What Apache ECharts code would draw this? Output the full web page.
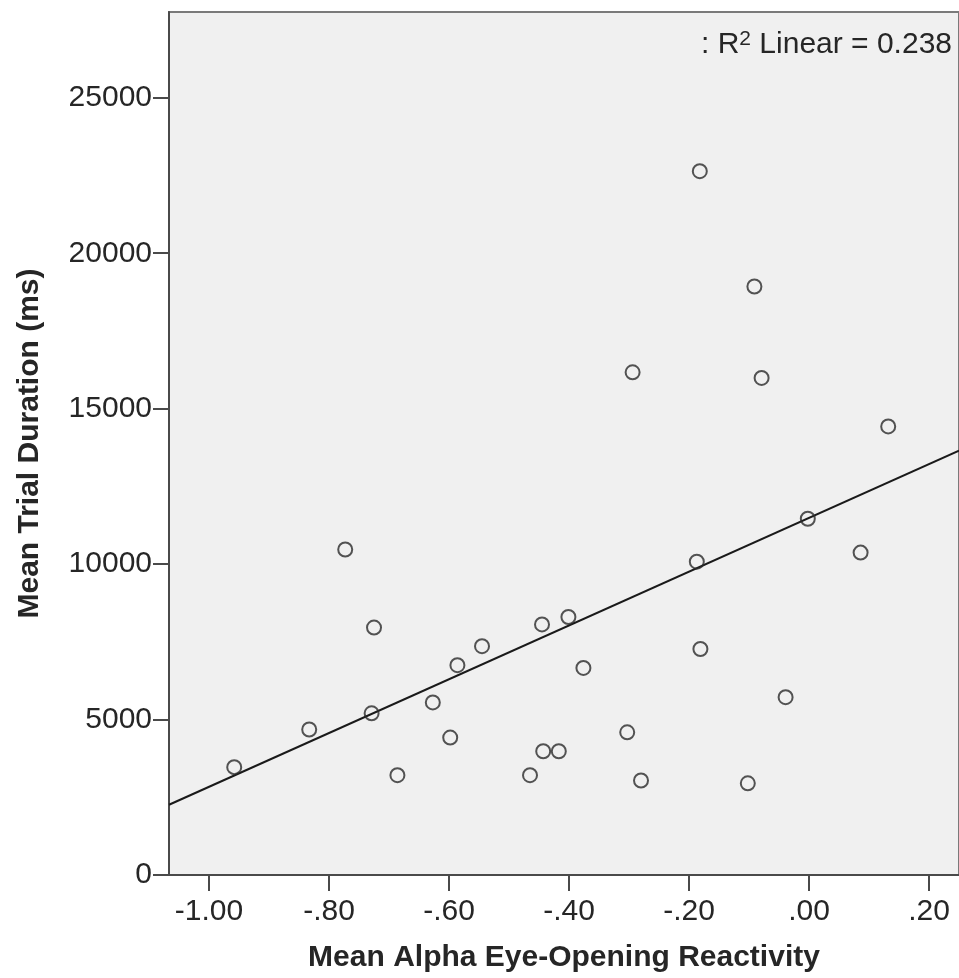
<!DOCTYPE html>
<html>
<head>
<meta charset="utf-8">
<script src="https://cdn.jsdelivr.net/npm/echarts@6/dist/echarts.min.js"></script>
<style>
  html, body { margin: 0; padding: 0; background: #ffffff; }
  #chart { width: 959px; height: 978px; }
</style>
</head>
<body>
<div id="chart"></div>
<script>
// Per-subject means: alpha eye-opening reactivity vs. mean trial duration (ms)
var alphaReactivity = [
  -0.958, -0.833, -0.773, -0.725, -0.729, -0.686, -0.627, -0.598, -0.586, -0.545,
  -0.465, -0.445, -0.443, -0.417, -0.401, -0.376, -0.303, -0.294, -0.280, -0.187,
  -0.181, -0.182, -0.091, -0.079, -0.102, -0.039, -0.002, 0.086, 0.132
];
var trialDuration = [
  3470, 4680, 10470, 7960, 5200, 3210, 5550, 4420, 6750, 7360,
  3210, 8060, 3980, 3980, 8300, 6660, 4590, 16170, 3040, 10080,
  7270, 22640, 18930, 15990, 2950, 5720, 11460, 10370, 14430
];

var xTicks = [-1.0, -0.8, -0.6, -0.4, -0.2, 0.0, 0.2];
var yTicks = [0, 5000, 10000, 15000, 20000, 25000];
var xRange = [-1.0667, 0.25];
var yRange = [0, 27760];
var r2Label = '0.238';

var points = alphaReactivity.map(function (x, i) { return [x, trialDuration[i]]; });

// Ordinary least-squares fit of duration on reactivity
function linearFit(xs, ys) {
  var n = xs.length, mx = 0, my = 0;
  for (var i = 0; i < n; i++) { mx += xs[i]; my += ys[i]; }
  mx /= n; my /= n;
  var sxy = 0, sxx = 0;
  for (var j = 0; j < n; j++) {
    sxy += (xs[j] - mx) * (ys[j] - my);
    sxx += (xs[j] - mx) * (xs[j] - mx);
  }
  var slope = sxy / sxx;
  return { slope: slope, intercept: my - slope * mx };
}
var fit = linearFit(alphaReactivity, trialDuration);
var fitLine = xRange.map(function (x) { return [x, fit.intercept + fit.slope * x]; });

// Decimal labels without the leading zero: -.80, .00, .20
function spssDecimal(v) {
  var s = Math.abs(v).toFixed(2).replace(/^0\./, '.');
  return (v < -1e-9 ? '-' : '') + s;
}

var FONT = '"Liberation Sans", Arial, sans-serif';
var AXIS = '#4a4a4a';
var TEXT = '#262626';

var chart = echarts.init(document.getElementById('chart'), null, { renderer: 'canvas' });
chart.setOption({
  animation: false,
  backgroundColor: '#ffffff',
  title: {
    text: ': R{sup|2} Linear = ' + r2Label,
    right: 7,
    top: 29,
    padding: 0,
    textStyle: {
      fontFamily: FONT,
      fontSize: 30,
      fontWeight: 'normal',
      color: TEXT,
      rich: {
        sup: { fontFamily: FONT, fontSize: 21, color: TEXT, verticalAlign: 'top', lineHeight: 32 }
      }
    }
  },
  grid: {
    left: 169,
    right: -3,
    top: 12,
    bottom: 101,
    show: true,
    backgroundColor: '#f0f0f0',
    borderColor: '#7a7a7a',
    borderWidth: 2
  },
  xAxis: {
    type: 'value',
    min: xRange[0],
    max: xRange[1],
    name: 'Mean Alpha Eye-Opening Reactivity',
    nameLocation: 'middle',
    nameGap: 68,
    nameTextStyle: { fontFamily: FONT, fontSize: 30, fontWeight: 'bold', color: TEXT },
    splitLine: { show: false },
    axisLine: { show: true, onZero: false, lineStyle: { color: AXIS, width: 2 } },
    axisTick: { show: true, length: 16, customValues: xTicks, lineStyle: { color: AXIS, width: 2 } },
    axisLabel: {
      customValues: xTicks,
      margin: 22,
      fontFamily: FONT,
      fontSize: 30,
      color: TEXT,
      formatter: function (v) { return spssDecimal(v); }
    }
  },
  yAxis: {
    type: 'value',
    min: yRange[0],
    max: yRange[1],
    name: 'Mean Trial Duration (ms)',
    nameLocation: 'middle',
    nameGap: 124,
    nameTextStyle: { fontFamily: FONT, fontSize: 30, fontWeight: 'bold', color: TEXT },
    splitLine: { show: false },
    axisLine: { show: true, onZero: false, lineStyle: { color: AXIS, width: 2 } },
    axisTick: { show: true, length: 16, customValues: yTicks, lineStyle: { color: AXIS, width: 2 } },
    axisLabel: {
      customValues: yTicks,
      margin: 17,
      fontFamily: FONT,
      fontSize: 30,
      color: TEXT,
      formatter: function (v) { return String(Math.round(v)); }
    }
  },
  series: [
    {
      type: 'line',
      data: fitLine,
      symbol: 'none',
      silent: true,
      lineStyle: { color: '#1a1a1a', width: 2 },
      z: 2
    },
    {
      type: 'scatter',
      data: points,
      symbol: 'circle',
      symbolSize: 14,
      itemStyle: { color: 'rgba(0,0,0,0)', borderColor: '#2b2b2b', borderWidth: 2 },
      z: 3
    }
  ]
});
</script>
</body>
</html>
